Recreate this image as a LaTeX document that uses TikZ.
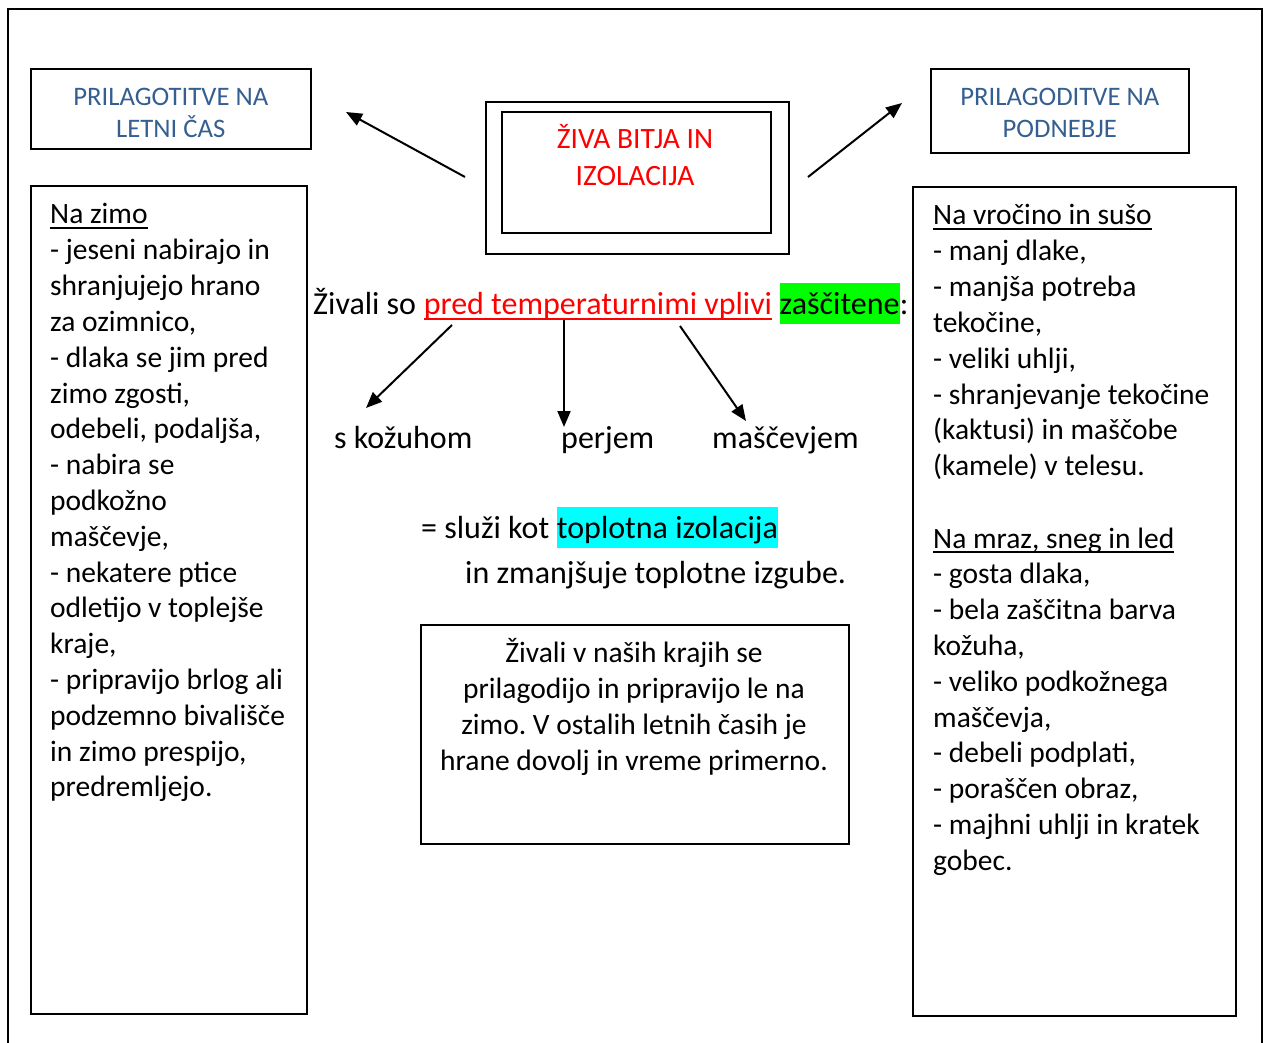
\documentclass[tikz,border=0pt]{standalone}
\usepackage{fontspec}
\setmainfont{Carlito}
\frenchspacing
\usetikzlibrary{positioning,arrows.meta}
\definecolor{headblue}{RGB}{54,95,145}
\definecolor{hlgreen}{RGB}{0,255,0}
\definecolor{hlcyan}{RGB}{0,255,255}

\begin{document}
\begin{tikzpicture}[x=1pt,y=-1pt,
frame/.style={draw, line width=1.6pt, inner sep=0pt, anchor=north west},
head/.style={text=headblue, align=center, font=\fontsize{26.7}{32}\selectfont},
txt/.style={anchor=base west, inner sep=0pt, font=\fontsize{29.5}{36}\selectfont},
big/.style={txt, font=\fontsize{32}{39}\selectfont},
hilite/.style={big, text height=31pt, text depth=9.5pt},
uline/.style={line width=1.4pt},
arr/.style={line width=2pt, -{Triangle[length=16pt,width=13pt]}}]

\useasboundingbox (0,0) rectangle (1264,1043);

% outer frame, open at the bottom
\draw[line width=1.6pt] (8,1043) -- (8,9) -- (1262,9) -- (1262,1043);

% top boxes
\node[frame, minimum width=280pt, minimum height=80pt] (letni) at (30,68) {};
\node[head] at ([yshift=-4pt]letni.center) {PRILAGOTITVE NA\\LETNI ČAS};

\node[frame, minimum width=258pt, minimum height=84pt] (podnebje) at (930,68) {};
\node[head] at ([yshift=-2pt]podnebje.center) {PRILAGODITVE NA\\PODNEBJE};

\node[frame, minimum width=303pt, minimum height=152pt] (naslov) at (485,101) {};
\node[frame, minimum width=269pt, minimum height=121pt] (naslovin) at (501,111) {};
\node[txt, anchor=base, text=red] (zivabitja) at (635,149) {ŽIVA BITJA IN};
\node[txt, anchor=base, text=red] (izolacija) at (635,186) {IZOLACIJA};

\coordinate (levo) at (465,177);
\coordinate (desno) at (808,177);
\draw[arr] (levo) -- (346,112);
\draw[arr] (desno) -- (902,103);

% side boxes
\node[frame, minimum width=276pt, minimum height=828pt] (zima) at (30,185) {};
\node[frame, minimum width=323pt, minimum height=829pt] (podnebja) at (912,186) {};

\node[txt] (hzima) at (50,224) {Na zimo};
\draw[uline] ([yshift=-4pt]hzima.base west) -- ([yshift=-4pt]hzima.base east);
\foreach \t [count=\i] in {{- jeseni nabirajo in}, {shranjujejo hrano}, {za ozimnico,},
  {- dlaka se jim pred}, {zimo zgosti,}, {odebeli, podaljša,}, {- nabira se},
  {podkožno}, {maščevje,}, {- nekatere ptice}, {odletijo v toplejše}, {kraje,},
  {- pripravijo brlog ali}, {podzemno bivališče}, {in zimo prespijo,}, {predremljejo.}}
  \node[txt] (zima\i) at (50,224+35.8*\i) {\t};

\node[txt] (hvrocina) at (933,225) {Na vročino in sušo};
\draw[uline] ([yshift=-4pt]hvrocina.base west) -- ([yshift=-4pt]hvrocina.base east);
\foreach \t [count=\i] in {{- manj dlake,}, {- manjša potreba}, {tekočine,},
  {- veliki uhlji,}, {- shranjevanje tekočine}, {(kaktusi) in maščobe},
  {(kamele) v telesu.}}
  \node[txt] (vrocina\i) at (933,225+35.8*\i) {\t};

\node[txt] (hmraz) at (933,548) {Na mraz, sneg in led};
\draw[uline] ([yshift=-4pt]hmraz.base west) -- ([yshift=-4pt]hmraz.base east);
\foreach \t [count=\i] in {{- gosta dlaka,}, {- bela zaščitna barva}, {kožuha,},
  {- veliko podkožnega}, {maščevja,}, {- debeli podplati,}, {- poraščen obraz,},
  {- majhni uhlji in kratek}, {gobec.}}
  \node[txt] (mraz\i) at (933,548+35.8*\i) {\t};

% middle sentence
\node[big] (zivali) at (313,314) {Živali so};
\node[big, text=red, right=7.2pt of zivali.base east, anchor=base west] (vplivi) {pred temperaturnimi vplivi};
\draw[uline, red] ([yshift=-5pt]vplivi.base west) -- ([yshift=-5pt]vplivi.base east);
\node[hilite, fill=hlgreen, right=7.2pt of vplivi.base east, anchor=base west] (zascitene) {zaščitene};
\node[big, right=0pt of zascitene.base east, anchor=base west] (dvopicje) {:};

\node[big] (kozuh) at (334,448) {s kožuhom};
\node[big] (perje) at (561,448) {perjem};
\node[big] (mascoba) at (712,448) {maščevjem};

\coordinate (p1) at (452,325);
\coordinate (p2) at (564,320);
\coordinate (p3) at (680,326);
\draw[arr] (p1) -- (366,408);
\draw[arr] (p2) -- (564,427);
\draw[arr] (p3) -- (746,421);

\node[big] (sluzi) at (421,538) {= služi kot};
\node[hilite, fill=hlcyan, right=7.2pt of sluzi.base east, anchor=base west] (toplotna) {toplotna izolacija};
\node[big] (izgube) at (465,583) {in zmanjšuje toplotne izgube.};

% bottom note
\node[frame, minimum width=428pt, minimum height=219pt] (opomba) at (420,624) {};
\foreach \t [count=\i from 0] in {{Živali v naših krajih se}, {prilagodijo in pripravijo le na},
  {zimo. V ostalih letnih časih je}, {hrane dovolj in vreme primerno.}}
  \node[txt, anchor=base] (opomba\i) at (634,662+36*\i) {\t};

\end{tikzpicture}
\end{document}
